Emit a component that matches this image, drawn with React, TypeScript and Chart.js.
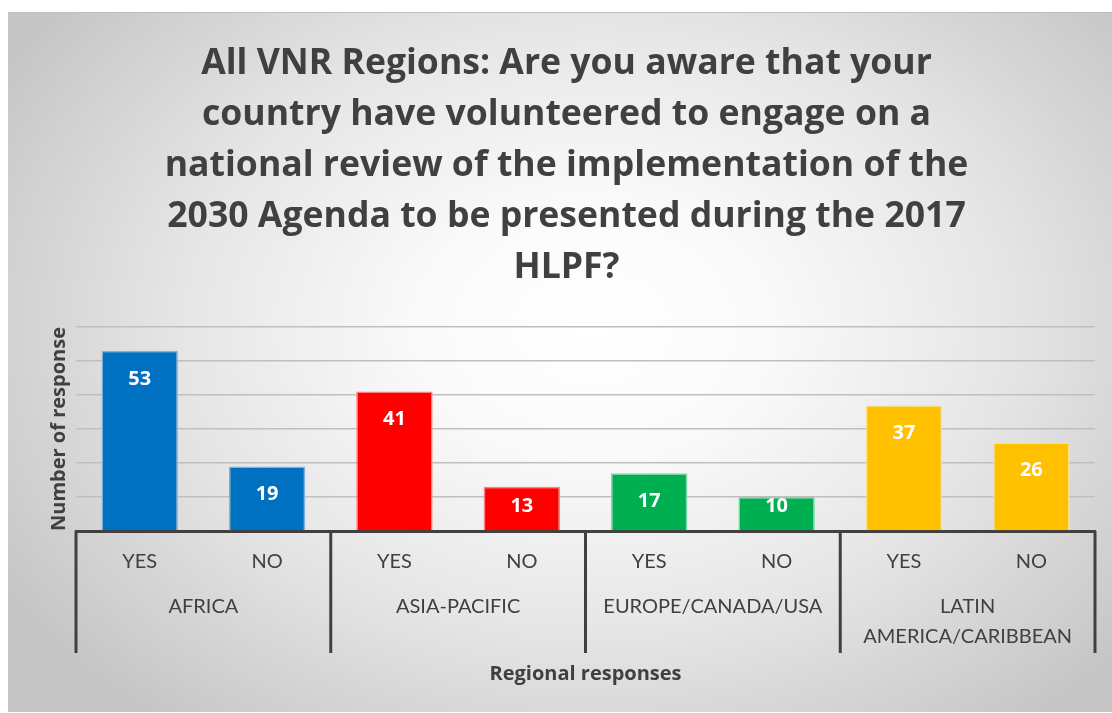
import React, { useEffect, useRef } from "react";
import { Chart, registerables } from "chart.js";

Chart.register(...registerables);

const titleLines = [
  "All VNR Regions: Are you aware that your",
  "country have volunteered to engage on a",
  "national review of the implementation of the",
  "2030 Agenda to be presented during the 2017",
  "HLPF?",
];
const answers = ["YES", "NO", "YES", "NO", "YES", "NO", "YES", "NO"];
const regions: (string | string[])[] = [
  "AFRICA",
  "ASIA-PACIFIC",
  "EUROPE/CANADA/USA",
  ["LATIN", "AMERICA/CARIBBEAN"],
];
const responses = [53, 19, 41, 13, 17, 10, 37, 26];
const barColors = ["#0070C0", "#0070C0", "#FF0000", "#FF0000", "#00B050", "#00B050", "#FFC000", "#FFC000"];
const barEdges = ["#7FB2E0", "#7FB2E0", "#FF8080", "#FF8080", "#7FD8A7", "#7FD8A7", "#FFE08A", "#FFE08A"];
const yTitle = "Number of response";
const xTitle = "Regional responses";

const FONT = "Lato, 'Open Sans', sans-serif";
const BOLD_FONT = "'Open Sans', Lato, sans-serif";
const INK = "#404040";

const valueLabels = {
  id: "valueLabels",
  afterDatasetsDraw(chart: any) {
    const ctx = chart.ctx;
    const meta = chart.getDatasetMeta(0);
    ctx.save();
    ctx.fillStyle = "#ffffff";
    ctx.font = `bold 20px ${BOLD_FONT}`;
    ctx.textAlign = "center";
    ctx.textBaseline = "middle";
    meta.data.forEach((bar: any, i: number) => {
      const y = Math.min(bar.y + 28, bar.base - 24);
      ctx.fillText(String(chart.data.datasets[0].data[i]), bar.x, y);
    });
    ctx.restore();
  },
};

const groupSeparators = {
  id: "groupSeparators",
  afterDraw(chart: any) {
    const x2 = chart.scales.x2;
    const ctx = chart.ctx;
    ctx.save();
    ctx.strokeStyle = INK;
    ctx.lineWidth = 3;
    for (let i = 0; i <= regions.length; i++) {
      const px = x2.getPixelForValue(i - 0.5);
      ctx.beginPath();
      ctx.moveTo(px, chart.chartArea.bottom);
      ctx.lineTo(px, x2.top + 76);
      ctx.stroke();
    }
    ctx.restore();
  },
};

export default function App() {
  const ref = useRef<HTMLCanvasElement>(null);
  useEffect(() => {
    if (!ref.current) return;
    const chart = new Chart(ref.current, {
      type: "bar",
      data: {
        labels: answers,
        datasets: [
          {
            data: responses,
            backgroundColor: barColors,
            borderColor: barEdges,
            borderWidth: 1.5,
            barPercentage: 0.6,
            categoryPercentage: 1,
            xAxisID: "x",
          },
        ],
      },
      options: {
        animation: false,
        responsive: true,
        maintainAspectRatio: false,
        layout: { padding: { left: 30, right: 17, top: 0, bottom: 26 } },
        plugins: {
          legend: { display: false },
          tooltip: { enabled: false },
          title: {
            display: true,
            text: titleLines,
            color: INK,
            font: { family: BOLD_FONT, size: 35.6, weight: "bold", lineHeight: 51 / 35.6 },
            padding: { top: 25, bottom: 34 },
          },
        },
        scales: {
          x: {
            type: "category",
            position: "bottom",
            offset: true,
            z: 1,
            grid: { display: false, drawTicks: false },
            border: { display: true, color: INK, width: 3 },
            ticks: {
              autoSkip: false,
              maxRotation: 0,
              padding: 19,
              color: INK,
              font: { family: FONT, size: 20 },
            },
            afterFit: (s: any) => {
              s.height = 46;
            },
          },
          x2: {
            type: "category",
            position: "bottom",
            labels: regions as any,
            offset: true,
            grid: { display: false, drawTicks: false },
            border: { display: false },
            ticks: {
              autoSkip: false,
              maxRotation: 0,
              padding: 15,
              color: INK,
              font: { family: FONT, size: 20, lineHeight: 1.5 },
            },
            title: {
              display: true,
              text: xTitle,
              color: INK,
              font: { family: BOLD_FONT, size: 20, weight: "bold" },
              padding: { top: 0, bottom: 0 },
            },
            afterFit: (s: any) => {
              s.height = 109;
            },
          },
          y: {
            min: 0,
            max: 60,
            ticks: { display: false, stepSize: 10 },
            grid: { color: "#bfbfbf", lineWidth: 1.5, drawTicks: false },
            border: { display: false },
            title: {
              display: true,
              text: yTitle,
              color: INK,
              font: { family: BOLD_FONT, size: 20, weight: "bold" },
              padding: { top: 9, bottom: 4 },
            },
            afterFit: (s: any) => {
              s.width = 38;
            },
          },
        },
      },
      plugins: [valueLabels, groupSeparators],
    });
    return () => chart.destroy();
  }, []);

  return (
    <div
      style={{
        position: "absolute",
        left: 8,
        top: 12,
        width: 1104,
        height: 700,
        borderTop: "1px solid #bfbfbf",
        boxSizing: "border-box",
        background:
          "radial-gradient(ellipse 62% 72% at 53% 45%, #ffffff 0%, #fafafa 25%, #e6e6e6 60%, #c6c6c6 100%)",
      }}
    >
      <canvas ref={ref} />
    </div>
  );
}
